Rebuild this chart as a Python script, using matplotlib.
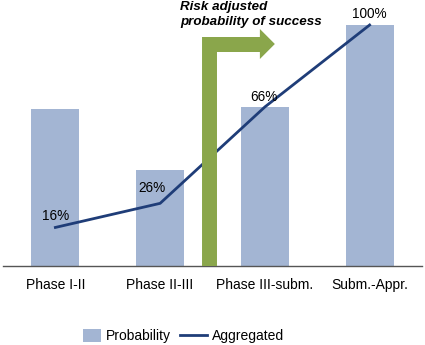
import numpy as np
import matplotlib
matplotlib.use('Agg')
import matplotlib.pyplot as plt
from matplotlib.patches import Polygon, Patch, Rectangle
from matplotlib.lines import Line2D
from matplotlib.legend_handler import HandlerPatch

plt.rcParams['font.family'] = ['Liberation Sans', 'DejaVu Sans']

phases = ['Phase I-II', 'Phase II-III', 'Phase III-subm.', 'Subm.-Appr.']
probability = [0.65, 0.40, 0.66, 1.00]
aggregated = [0.16, 0.26, 0.66, 1.00]
agg_labels = ['16%', '26%', '66%', '100%']

bar_col = '#a3b5d3'
line_col = '#1f3d78'
green = '#8aa64b'

fig = plt.figure(figsize=(4.25, 3.45), dpi=100)
ax = fig.add_axes([3/425, 1 - 266/345, 419/425, 266/345])

x = np.arange(len(phases))
ax.bar(x, probability, width=0.46, color=bar_col, zorder=1)
ax.plot(x, aggregated, color=line_col, lw=2, zorder=2)

# label offsets in pixels
offs = [(0, 11), (-8, 15), (-1, 10), (0, 11)]
for xi, yi, lab, o in zip(x, aggregated, agg_labels, offs):
    ax.annotate(lab, (xi, yi), xytext=o, textcoords='offset pixels',
                ha='center', va='center', fontsize=9.8, zorder=4)

# green bent arrow between phase II-III and phase III
px = lambda p: (p - 55) / 105.0
py = lambda p: (266 - p) / 241.0
arrow = [(px(202), py(266)), (px(202), py(37)), (px(260), py(37)),
         (px(260), py(29)), (px(275), py(44)), (px(260), py(59)),
         (px(260), py(52)), (px(217), py(52)), (px(217), py(266))]
ax.add_patch(Polygon(arrow, closed=True, color=green, lw=0, zorder=3))

fig.text(180/425, 1 - 1/345, 'Risk adjusted\nprobability of success',
         fontsize=9.6, fontweight='bold', fontstyle='italic',
         ha='left', va='top', linespacing=1.35)

ax.set_xlim(-0.5, 3.5)
ax.set_ylim(0, 266/241)
ax.set_xticks(x)
ax.set_xticklabels(phases, fontsize=10)
ax.tick_params(axis='x', length=0, pad=8.5)
ax.set_yticks([])
for s in ['top', 'right', 'left']:
    ax.spines[s].set_visible(False)
ax.spines['bottom'].set_color('#555555')
ax.spines['bottom'].set_linewidth(1)


class SmallBox(HandlerPatch):
    def create_artists(self, legend, orig, xd, yd, w, h, fs, trans):
        bw, bh = 13, 9.4  # points
        r = Rectangle((xd + w - bw, yd + h/2 - bh/2), bw, bh,
                      facecolor=orig.get_facecolor(), lw=0, transform=trans)
        return [r]


handles = [Patch(color=bar_col, label='Probability'),
           Line2D([0], [0], color=line_col, lw=2, label='Aggregated')]
fig.legend(handles=handles, loc='center', bbox_to_anchor=(179/425, 1 - 336/345),
           ncol=2, frameon=False, fontsize=10, handlelength=1.9,
           handletextpad=0.35, columnspacing=0.7,
           handler_map={Patch: SmallBox()})

fig.savefig('out.png', dpi=100)
